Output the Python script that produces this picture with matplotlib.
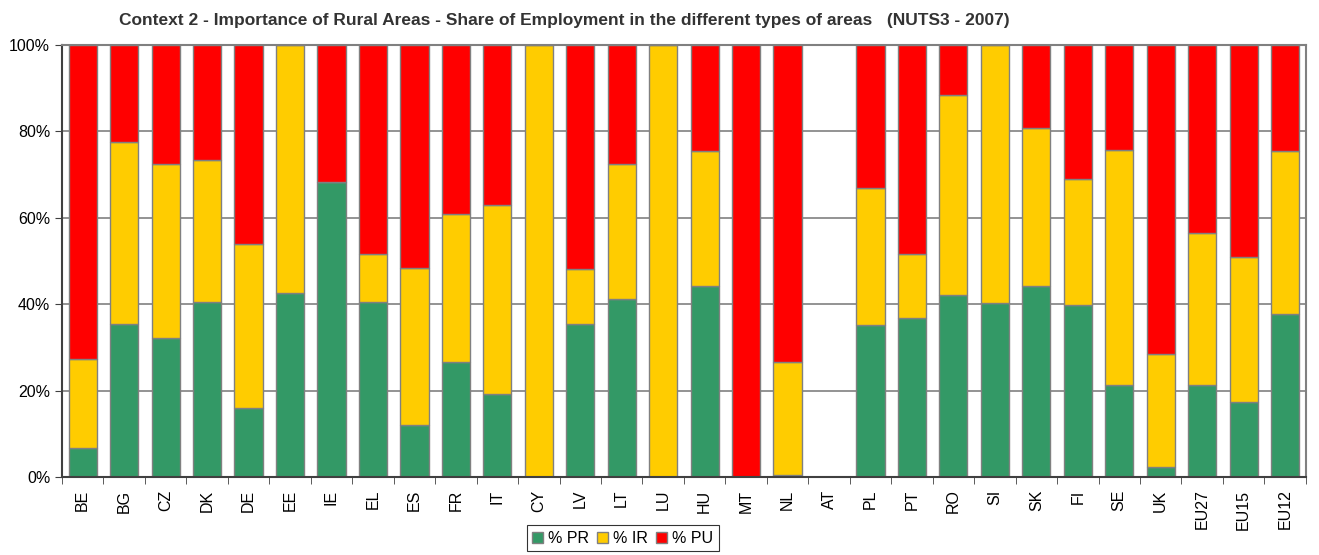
import matplotlib
matplotlib.use("Agg")
import matplotlib.pyplot as plt
import numpy as np

plt.rcParams['font.family'] = ['Liberation Sans', 'DejaVu Sans']

# share of employment (%) by type of area, NUTS3 2007
countries = ["BE", "BG", "CZ", "DK", "DE", "EE", "IE", "EL", "ES", "FR", "IT", "CY",
             "LV", "LT", "LU", "HU", "MT", "NL", "AT", "PL", "PT", "RO", "SI", "SK",
             "FI", "SE", "UK", "EU27", "EU15", "EU12"]
pr = [6.7, 35.4, 32.2, 40.5, 16.0, 42.6, 68.3, 40.5, 12.0, 26.6, 19.2, 0.0,
      35.4, 41.2, 0.0, 44.2, 0.0, 0.5, 0.0, 35.2, 36.8, 42.1, 40.3, 44.2,
      39.8, 21.3, 2.3, 21.3, 17.4, 37.7]
ir = [20.7, 42.1, 40.3, 32.9, 38.0, 57.4, 0.0, 11.1, 36.4, 34.3, 43.8, 100.0,
      12.7, 31.3, 100.0, 31.3, 0.0, 26.1, 0.0, 31.7, 14.8, 46.3, 59.7, 36.6,
      29.2, 54.4, 26.2, 35.2, 33.5, 37.8]
pu = [72.6, 22.5, 27.5, 26.6, 46.0, 0.0, 31.7, 48.4, 51.6, 39.1, 37.0, 0.0,
      51.9, 27.5, 0.0, 24.5, 100.0, 73.4, 0.0, 33.1, 48.4, 11.6, 0.0, 19.2,
      31.0, 24.3, 71.5, 43.5, 49.1, 24.5]

pr = np.array(pr)
ir = np.array(ir)
pu = np.array(pu)
x = np.arange(len(countries))

fig = plt.figure(figsize=(13.19, 5.55), dpi=100)
ax = fig.add_axes([0.047, 0.1405, 0.943, 0.7785])

ax.set_axisbelow(True)
ax.yaxis.grid(True, color="#808080", linewidth=1.2)

edge = "#808080"
w = 0.68
ax.bar(x, pr, w, color="#339966", edgecolor=edge, linewidth=1, label="% PR")
ax.bar(x, ir, w, bottom=pr, color="#FFCC00", edgecolor=edge, linewidth=1, label="% IR")
ax.bar(x, pu, w, bottom=pr + ir, color="#FF0000", edgecolor=edge, linewidth=1, label="% PU")

ax.set_xlim(-0.5, len(countries) - 0.5)
ax.set_ylim(0, 100)
ax.set_yticks(np.arange(0, 101, 20))
ax.set_yticklabels([f"{v}%" for v in range(0, 101, 20)], fontsize=11.5)
ax.set_xticks(x)
ax.set_xticklabels(countries, rotation=90, fontsize=11.5)
ax.set_xticks(np.arange(-0.5, len(countries), 1), minor=True)
ax.tick_params(axis="x", which="major", length=0, pad=9)
ax.tick_params(axis="x", which="minor", length=5, color="#404040")
ax.tick_params(axis="y", length=5, color="#404040")

for s in ax.spines.values():
    s.set_color("#808080")
    s.set_linewidth(1.5)
ax.spines["left"].set_color("#404040")
ax.spines["bottom"].set_color("#404040")

fig.text(0.09, 0.963, "Context 2 - Importance of Rural Areas - Share of Employment in the different types of areas   (NUTS3 - 2007)",
         fontsize=12.5, fontweight="bold", color="#333333", va="center")

leg = ax.legend(loc="center", ncol=3, frameon=True, fontsize=11.5, handlelength=0.7,
                handleheight=0.7, handletextpad=0.3, columnspacing=0.5, borderpad=0.35,
                fancybox=False)
leg.get_frame().set_edgecolor("black")
leg.get_frame().set_linewidth(0.8)
leg.set_bbox_to_anchor((0.472, 0.03), transform=fig.transFigure)

fig.savefig("out.png", dpi=100)
